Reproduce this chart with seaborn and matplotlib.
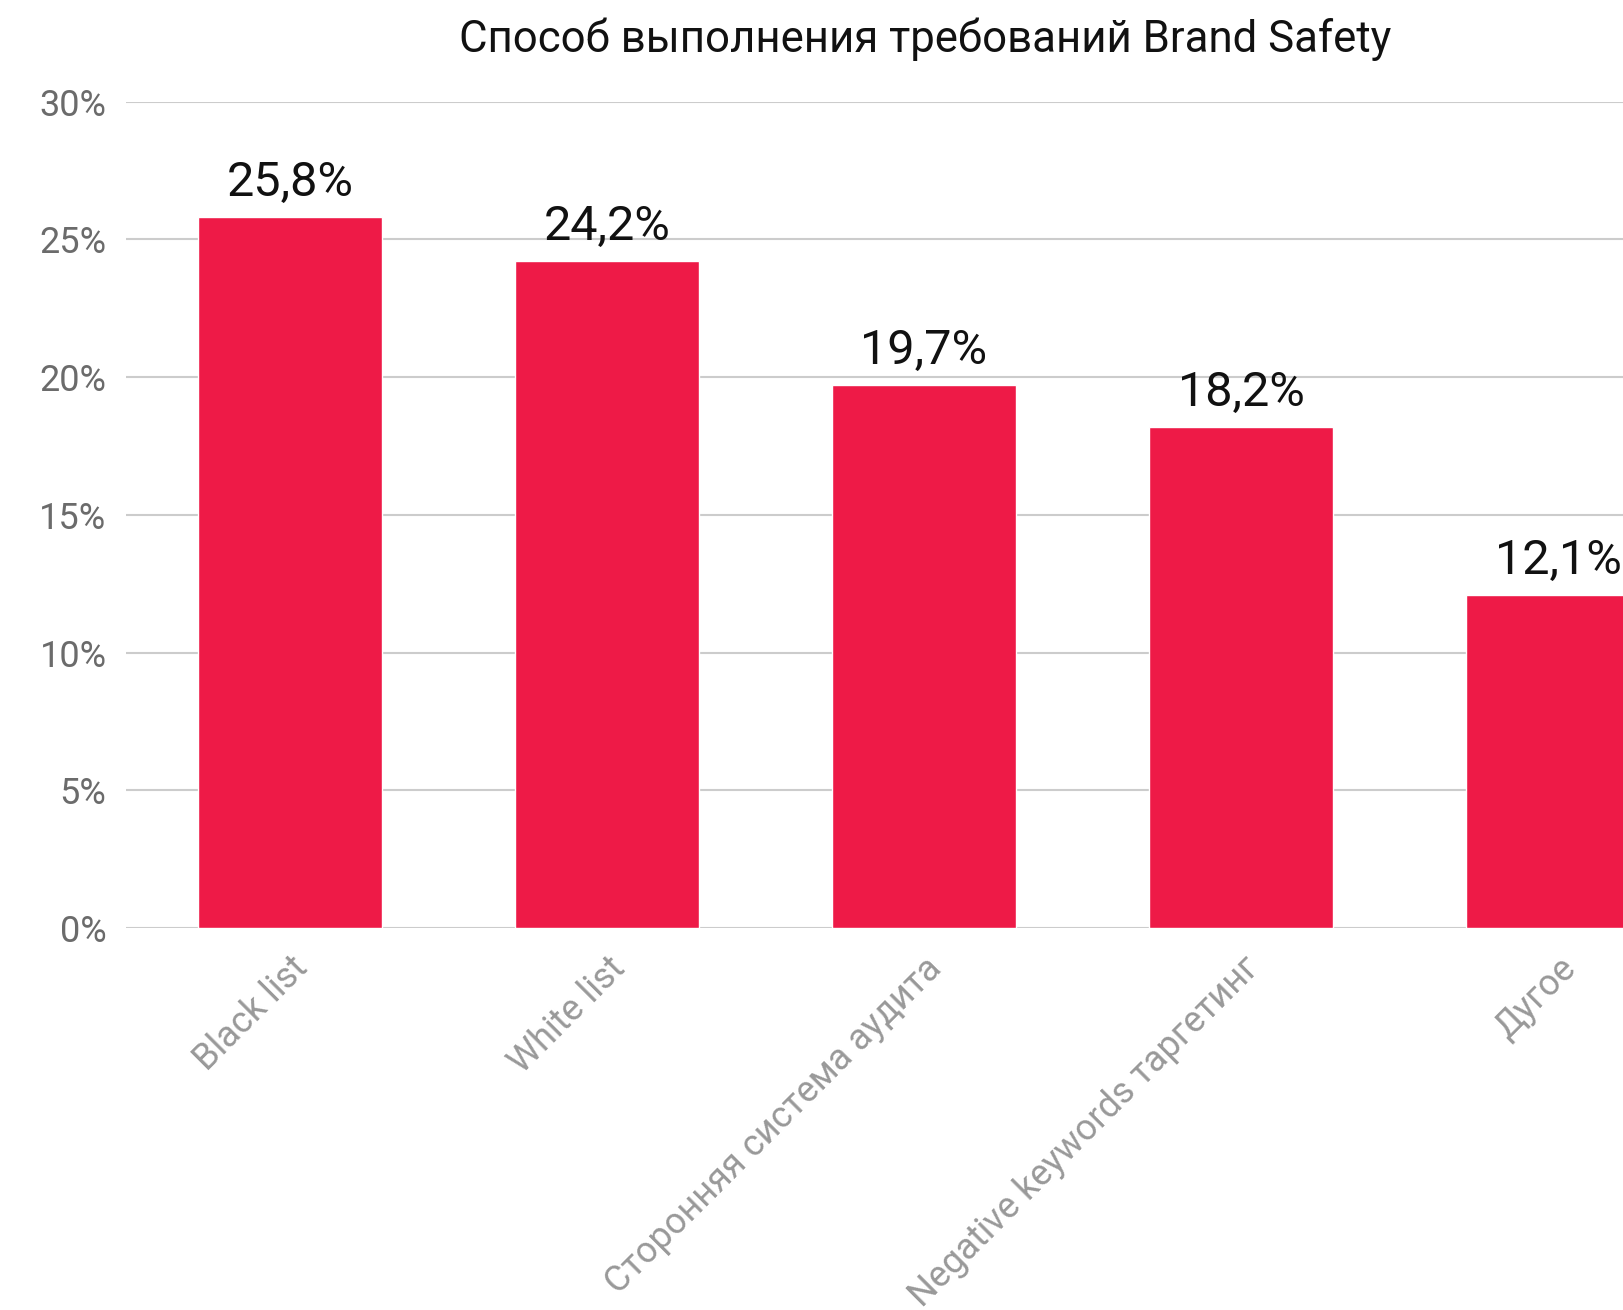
import matplotlib
matplotlib.use("Agg")
import matplotlib.pyplot as plt
import seaborn as sns
import pandas as pd

categories = ["Black list", "White list", "Сторонняя система аудита",
              "Negative keywords таргетинг", "Дугое"]
values = [25.8, 24.2, 19.7, 18.2, 12.1]
value_labels = ["25,8%", "24,2%", "19,7%", "18,2%", "12,1%"]
yticks = [0, 5, 10, 15, 20, 25, 30]
ytick_labels = ["0%", "5%", "10%", "15%", "20%", "25%", "30%"]
title = "Способ выполнения требований Brand Safety"

sns.set_theme(style="white")
plt.rcParams['font.family'] = ['Roboto', 'DejaVu Sans']

df = pd.DataFrame({"cat": categories, "val": values})

fig = plt.figure(figsize=(16.24, 13.10), dpi=100)
ax = fig.add_axes([0.0776, 0.2916, 0.9224, 0.6309])
sns.barplot(data=df, x="cat", y="val", color="#EE1A47", saturation=1,
            width=0.58, ax=ax)

ax.set_ylim(0, 30)
ax.set_xlim(-0.517, 4.208)
ax.set_yticks(yticks)
ax.set_yticklabels(ytick_labels, fontsize=26, color="#6b6b6b")
ax.yaxis.grid(True, color="#cccccc", linewidth=1.5)
ax.set_axisbelow(True)
for s in ax.spines.values():
    s.set_visible(False)
ax.tick_params(axis="y", length=0, pad=14)
ax.tick_params(axis="x", length=0, pad=16)
ax.set_xlabel("")
ax.set_ylabel("")
for lbl in ax.get_xticklabels():
    lbl.set_rotation(45)
    lbl.set_ha("right")
    lbl.set_va("top")
    lbl.set_rotation_mode("anchor")
    lbl.set_fontsize(26)
    lbl.set_color("#999999")

for c in ax.containers:
    ax.bar_label(c, labels=value_labels, padding=8, fontsize=35, color="#111111")

fig.text(0.57, 0.970, title, ha="center", va="center", fontsize=31.5, color="#111111")

fig.savefig("out.png", dpi=100)
